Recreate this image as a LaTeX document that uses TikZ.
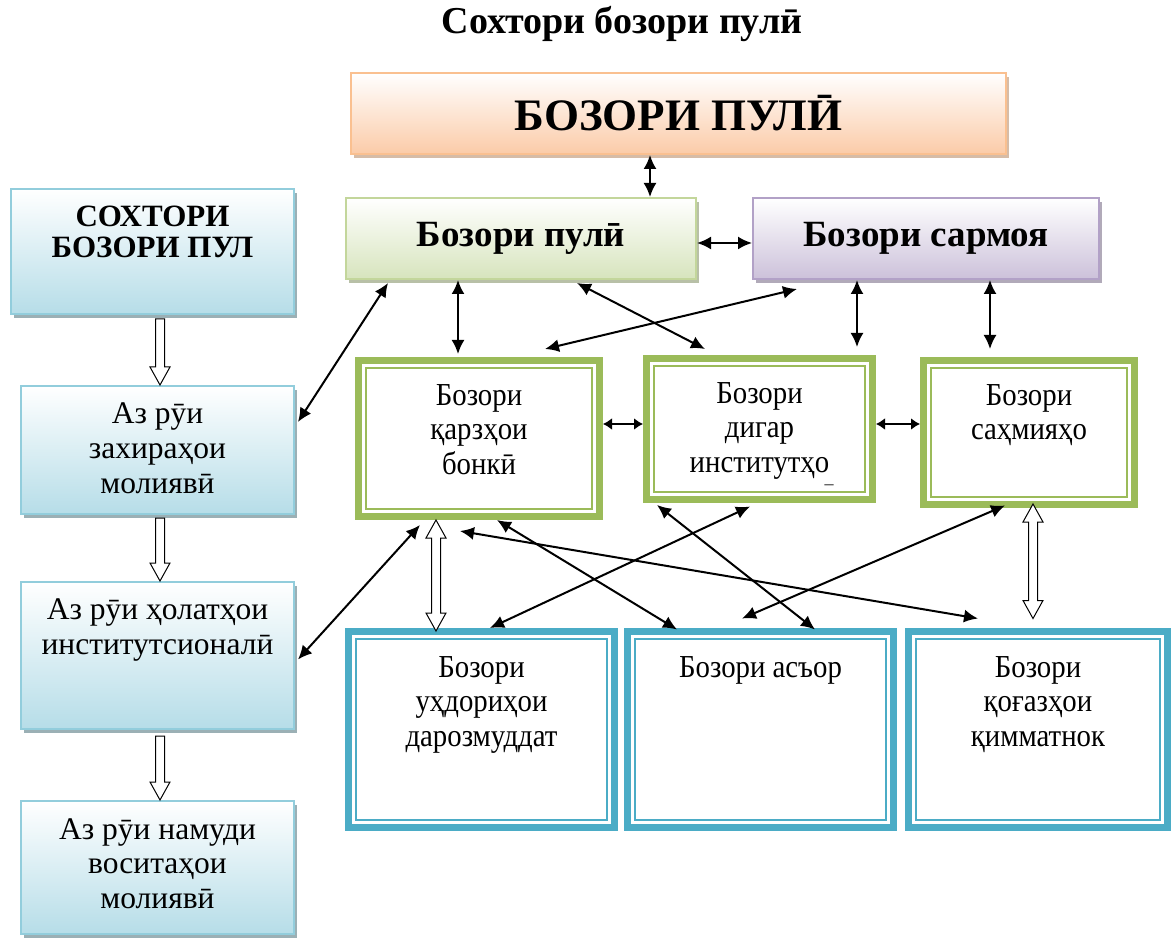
\documentclass[tikz,border=0pt]{standalone}
\usepackage{fontspec}
\setmainfont{Liberation Serif}
\newfontfamily\narrowserif[FakeStretch=0.9]{Liberation Serif}
\usepackage{tikz}
\usetikzlibrary{arrows.meta,shadows,calc}

\definecolor{peachline}{HTML}{FAC090}
\definecolor{peachfill}{HTML}{FBCBA8}
\definecolor{blueline}{HTML}{92CDDC}
\definecolor{bluefill}{HTML}{B6DDE8}
\definecolor{greenline}{HTML}{C3D69B}
\definecolor{greenfill}{HTML}{D7E4BD}
\definecolor{lilacline}{HTML}{B2A1C7}
\definecolor{lilacfill}{HTML}{CCC1DA}
\definecolor{olivegreen}{HTML}{9BBB59}
\definecolor{tealblue}{HTML}{4BACC6}

\tikzstyle{Box}=[rectangle, line width=2pt, inner sep=0pt]
\tikzstyle{Peach}=[Box, draw=peachline, top color=white, bottom color=peachfill,
  drop shadow={shadow xshift=3pt, shadow yshift=-4pt, fill=peachline!75!black, opacity=0.6}]
\tikzstyle{Blue}=[Box, draw=blueline, top color=white, bottom color=bluefill,
  drop shadow={shadow xshift=3pt, shadow yshift=-4pt, fill=blueline!60!black, opacity=0.6}]
\tikzstyle{Green}=[Box, draw=greenline, top color=white, bottom color=greenfill,
  drop shadow={shadow xshift=3pt, shadow yshift=-4pt, fill=greenline!70!black, opacity=0.6}]
\tikzstyle{Lilac}=[Box, draw=lilacline, top color=white, bottom color=lilacfill,
  drop shadow={shadow xshift=3pt, shadow yshift=-4pt, fill=lilacline!70!black, opacity=0.6}]
\tikzstyle{OliveFrame}=[rectangle, draw=olivegreen, line width=7pt, fill=white, inner sep=0pt,
  path picture={\draw[olivegreen, line width=1.6pt] ([shift={(7.5pt,7.5pt)}]path picture bounding box.south west) rectangle ([shift={(-7.5pt,-7.5pt)}]path picture bounding box.north east);}]
\tikzstyle{TealFrame}=[rectangle, draw=tealblue, line width=7pt, fill=white, inner sep=0pt,
  path picture={\draw[tealblue, line width=1.6pt] ([shift={(7.5pt,7.5pt)}]path picture bounding box.south west) rectangle ([shift={(-7.5pt,-7.5pt)}]path picture bounding box.north east);}]
\tikzstyle{Txt}=[anchor=north, align=center, inner sep=0pt, font=\fontsize{31.5}{35}\selectfont]
\tikzstyle{NarrowTxt}=[anchor=north, align=center, inner sep=0pt, font=\narrowserif\fontsize{32}{34.5}\selectfont]
\tikzstyle{Link}=[{Latex[length=14pt,width=13pt]}-{Latex[length=14pt,width=13pt]}, line width=2pt]
\tikzstyle{ShortLink}=[{Latex[length=9pt,width=12pt]}-{Latex[length=9pt,width=12pt]}, line width=2pt]
\tikzstyle{HollowDown}=[draw, fill=white, line width=1pt, to path={let \p1=(\tikztostart), \p2=(\tikztotarget) in
  (\x1-4.5,\y1) -- (\x1-4.5,\y2+18) -- (\x1-10,\y2+18) -- (\x1,\y2) -- (\x1+10,\y2+18) -- (\x1+4.5,\y2+18) -- (\x1+4.5,\y1) -- cycle}]
\tikzstyle{HollowBoth}=[draw, fill=white, line width=1pt, to path={let \p1=(\tikztostart), \p2=(\tikztotarget) in
  (\x1,\y1) -- (\x1+10,\y1-18) -- (\x1+4.5,\y1-18) -- (\x1+4.5,\y2+18) -- (\x1+10,\y2+18) -- (\x1,\y2)
  -- (\x1-10,\y2+18) -- (\x1-4.5,\y2+18) -- (\x1-4.5,\y1-18) -- (\x1-10,\y1-18) -- cycle}]

\begin{document}
\begin{tikzpicture}[x=1pt, y=-1pt]
    \useasboundingbox (0,0) rectangle (1171,941);
    \node[font=\bfseries\fontsize{38}{44}\selectfont] (title) at (622,24) {Сохтори бозори пулӣ};

    % upper level
    \path
    (678.5,113.5) node[Peach, minimum width=655pt, minimum height=81pt, font=\bfseries\fontsize{45}{50}\selectfont] (top) {БОЗОРИ ПУЛӢ}
    (521,238.5) node[Green, minimum width=350pt, minimum height=81pt, font=\bfseries\fontsize{37}{42}\selectfont] (pul) {Бозори пулӣ}
    (926,238.5) node[Lilac, minimum width=346pt, minimum height=81pt, font=\bfseries\fontsize{37}{42}\selectfont] (sarmoya) {Бозори сармоя};

    % left column
    \path
    (152.5,251.5) node[Blue, minimum width=283pt, minimum height=125pt] (sokhtor) {}
    (157.5,450) node[Blue, minimum width=273pt, minimum height=128pt] (zakhira) {}
    (157.5,655.5) node[Blue, minimum width=273pt, minimum height=147pt] (holat) {}
    (157.5,867.5) node[Blue, minimum width=273pt, minimum height=133pt] (namud) {};
    \node[Txt, font=\bfseries\fontsize{31}{31}\selectfont] (sokhtor-t) at ([yshift=-18pt]sokhtor.north) {СОХТОРИ\\БОЗОРИ ПУЛ};
    \node[Txt] (zakhira-t) at ([yshift=-18pt]zakhira.north) {Аз рӯи\\захираҳои\\молиявӣ};
    \node[Txt] (holat-t) at ([yshift=-18pt]holat.north) {Аз рӯи ҳолатҳои\\институтсионалӣ};
    \node[Txt] (namud-t) at ([yshift=-18pt]namud.north) {Аз рӯи намуди\\воситаҳои\\молиявӣ};

    % middle row
    \path
    (479,438.5) node[OliveFrame, minimum width=241pt, minimum height=156pt] (qarz) {}
    (759.5,429) node[OliveFrame, minimum width=226pt, minimum height=141pt] (digar) {}
    (1029,432.5) node[OliveFrame, minimum width=211pt, minimum height=144pt] (sahm) {};
    \node[NarrowTxt] (qarz-t) at ([yshift=-27pt]qarz.north) {Бозори\\қарзҳои\\бонкӣ};
    \node[NarrowTxt] (digar-t) at ([yshift=-27pt]digar.north) {Бозори\\дигар\\институтҳо};
    \node[font=\fontsize{18}{18}\selectfont, inner sep=0pt] (digar-mark) at (829,492) {¯};
    \node[NarrowTxt] (sahm-t) at ([yshift=-27pt]sahm.north) {Бозори\\саҳмияҳо};

    % lower row
    \path
    (481.5,729.5) node[TealFrame, minimum width=266pt, minimum height=196pt] (ukhda) {}
    (760.5,729.5) node[TealFrame, minimum width=266pt, minimum height=196pt] (asor) {}
    (1038,729.5) node[TealFrame, minimum width=259pt, minimum height=196pt] (qogaz) {};
    \node[NarrowTxt] (ukhda-t) at ([yshift=-28pt]ukhda.north) {Бозори\\уҳдориҳои\\дарозмуддат};
    \node[NarrowTxt] (asor-t) at ([yshift=-28pt]asor.north) {Бозори асъор};
    \node[NarrowTxt] (qogaz-t) at ([yshift=-28pt]qogaz.north) {Бозори\\қоғазҳои\\қимматнок};

    % hollow arrows
    \draw[HollowDown] ([xshift=7.5pt, yshift=-4pt]sokhtor.south) to (zakhira.north);
    \draw[HollowDown] ([xshift=2.5pt, yshift=-3pt]zakhira.south) to (holat.north);
    \draw[HollowDown] ([xshift=2.5pt, yshift=-6pt]holat.south) to (namud.north);
    \draw[HollowBoth] ([xshift=-43pt]qarz.south) to ([yshift=-3pt]ukhda.north);
    \draw[HollowBoth] ([xshift=4pt, yshift=4pt]sahm.south) to ([yshift=9.5pt]qogaz.north);

    % links
    \draw[Link] ([xshift=-28.5pt]top.south) -- ([xshift=129pt]pul.north);
    \draw[Link] ([yshift=-4.5pt]pul.east) -- ([yshift=-4.5pt]sarmoya.west);
    \draw[Link] ([xshift=-133pt, yshift=-3pt]pul.south) -- ([xshift=3pt, yshift=28pt]zakhira.east);
    \draw[Link] ([xshift=-63pt]pul.south) -- ([xshift=-21pt, yshift=3pt]qarz.north);
    \draw[Link] ([xshift=56pt, yshift=-3pt]pul.south) -- ([xshift=-54.5pt, yshift=6pt]digar.north);
    \draw[Link] ([xshift=-129pt, yshift=-9pt]sarmoya.south) -- ([xshift=66pt, yshift=8pt]qarz.north);
    \draw[Link] ([xshift=-69pt]sarmoya.south) -- ([xshift=97.5pt, yshift=8pt]digar.north);
    \draw[Link] ([xshift=64pt]sarmoya.south) -- ([xshift=-39pt, yshift=8pt]sahm.north);
    \draw[ShortLink] ([yshift=14.5pt]qarz.east) -- ([yshift=5pt]digar.west);
    \draw[ShortLink] ([yshift=5pt]digar.east) -- ([yshift=8.5pt]sahm.west);
    \draw[Link] ([xshift=-59pt, yshift=-5pt]qarz.south) -- ([xshift=3pt, yshift=-4pt]holat.east);
    \draw[Link] ([xshift=18pt]qarz.south) -- ([xshift=-83.5pt, yshift=-1.5pt]asor.north);
    \draw[Link] ([xshift=-19pt, yshift=-11pt]qarz.south) -- ([xshift=-60pt, yshift=9.5pt]qogaz.north);
    \draw[Link] ([xshift=-102.5pt, yshift=-2pt]digar.south) -- ([xshift=54.5pt, yshift=-1.5pt]asor.north);
    \draw[Link] ([xshift=-9.5pt, yshift=-3.5pt]digar.south) -- ([xshift=8.5pt]ukhda.north);
    \draw[Link] ([xshift=-24pt, yshift=2.5pt]sahm.south) -- ([xshift=-18.5pt, yshift=9.5pt]asor.north);
\end{tikzpicture}
\end{document}
